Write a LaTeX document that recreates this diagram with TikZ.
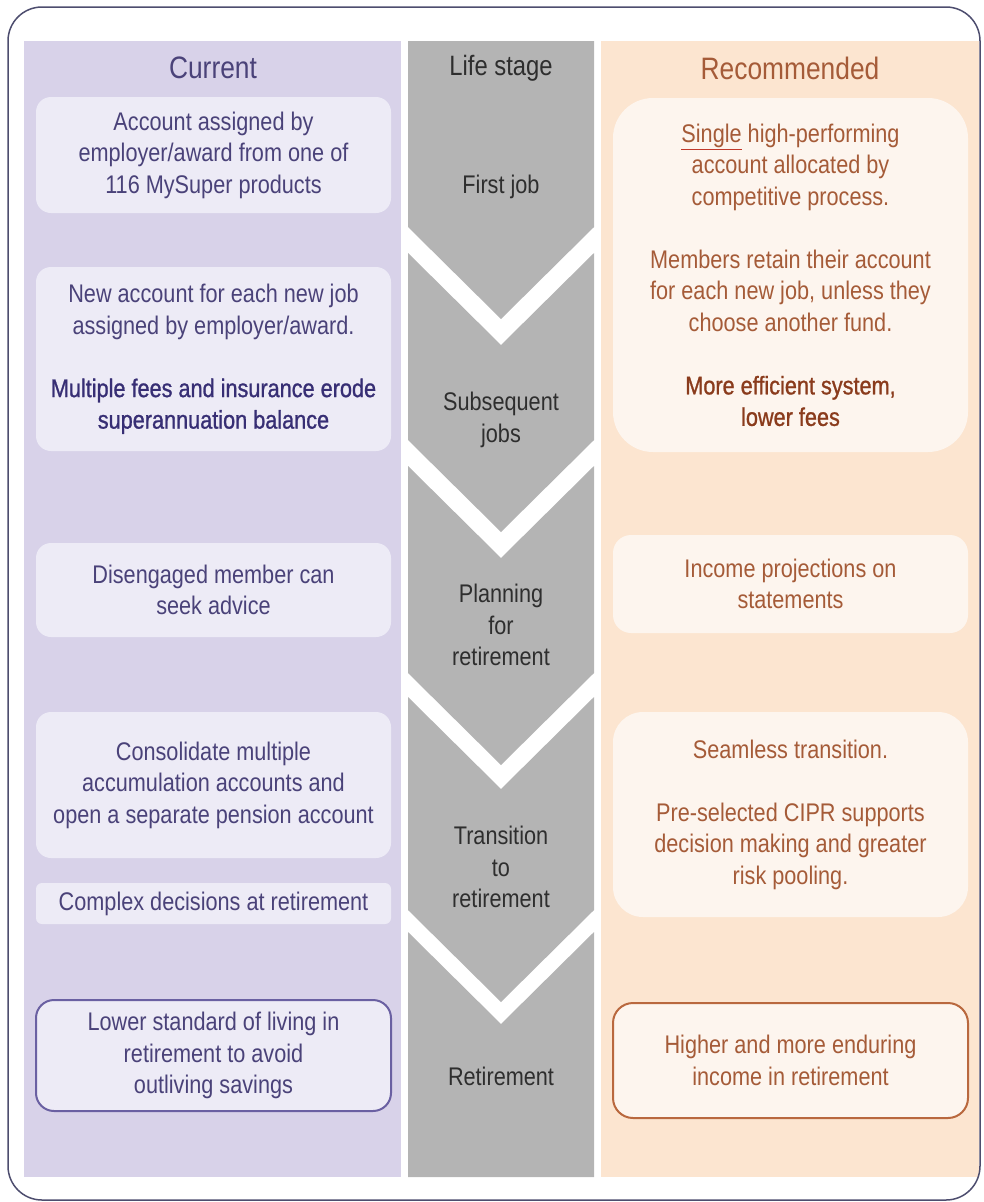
\documentclass[tikz,border=0pt]{standalone}
\usepackage{fontspec}
\setmainfont{Liberation Sans}[FakeStretch=0.85,BoldFont=Liberation Sans,BoldFeatures={FakeBold=1.0}]
\definecolor{curcol}{HTML}{D8D2E9}
\definecolor{curbg}{HTML}{EDEBF6}
\definecolor{curtxt}{HTML}{4A4279}
\definecolor{curdark}{HTML}{372E74}
\definecolor{curline}{HTML}{6A60A2}
\definecolor{stagecol}{HTML}{B4B4B4}
\definecolor{stagetxt}{HTML}{2E2E2E}
\definecolor{reccol}{HTML}{FCE5D0}
\definecolor{recbg}{HTML}{FDF5EE}
\definecolor{rectxt}{HTML}{A55B38}
\definecolor{recdark}{HTML}{8A3B1C}
\definecolor{recline}{HTML}{B9683E}
\definecolor{framecol}{HTML}{4D4D6E}
\definecolor{ulred}{HTML}{C0392B}
\newcommand\curem[1]{{\bfseries\color{curdark}#1}}
\newcommand\recem[1]{{\bfseries\color{recdark}#1}}
\begin{document}
\begin{tikzpicture}[x=1pt,y=-1pt,
  bodyfont/.style={font=\fontsize{25.5}{31.5}\selectfont},
  curbox/.style={bodyfont, fill=curbg, text=curtxt, align=center, inner sep=0pt, minimum width=355pt, rounded corners=15pt},
  recbox/.style={bodyfont, fill=recbg, text=rectxt, align=center, inner sep=0pt, minimum width=355pt, rounded corners=15pt},
  stglab/.style={bodyfont, text=stagetxt, align=center, inner sep=0pt},
  colhead/.style={font=\fontsize{31}{36}\selectfont, inner sep=0pt}]
\useasboundingbox (0,0) rectangle (983,1202);
\fill[curcol] (24,41) rectangle (401,1177);
\fill[reccol] (601,41) rectangle (979,1177);
\fill[stagecol] (408,41) -- (594,41) -- (594,227) -- (501,319) -- (408,227) -- cycle;
\fill[stagecol] (408,253) -- (501,345) -- (594,253) -- (594,440) -- (501,532) -- (408,440) -- cycle;
\fill[stagecol] (408,466) -- (501,558) -- (594,466) -- (594,673) -- (501,765) -- (408,673) -- cycle;
\fill[stagecol] (408,697) -- (501,789) -- (594,697) -- (594,910) -- (501,1002) -- (408,910) -- cycle;
\fill[stagecol] (408,932) -- (501,1024) -- (594,932) -- (594,1177) -- (408,1177) -- cycle;
\draw[framecol, line width=1.5pt, rounded corners=34pt] (8,7) rectangle (980,1200);
\node[colhead, text=curtxt] (hcur) at (213,68) {Current};
\node[colhead, text=stagetxt, font=\fontsize{28}{33}\selectfont] (hstg) at (501,68) {Life stage};
\node[colhead, text=rectxt] (hrec) at (790,68) {Recommended};
\node[stglab] (lab1) at (501,187) {First job};
\node[stglab] (lab2) at (501,420) {Subsequent\\jobs};
\node[stglab] (lab3) at (501,625) {Planning\\for\\retirement};
\node[stglab] (lab4) at (501,867) {Transition\\to\\retirement};
\node[stglab] (lab5) at (501,1076) {Retirement};
\node[curbox, minimum height=116pt] (cur1) at (213.5,155) {Account assigned by\\employer/award from one of\\116 MySuper products};
\node[curbox, minimum height=184pt] (cur2) at (213.5,359) {New account for each new job\\assigned by employer/award.\\[31.5pt]\curem{Multiple fees and insurance erode}\\\curem{superannuation balance}};
\node[curbox, minimum height=94pt] (cur3) at (213.5,590) {Disengaged member can\\seek advice};
\node[curbox, minimum height=146pt] (cur4) at (213.5,785) {Consolidate multiple\\accumulation accounts and\\open a separate pension account};
\node[curbox, minimum height=41pt, rounded corners=6pt] (cur5) at (213.5,903.5) {Complex decisions at retirement};
\node[curbox, minimum height=111pt, draw=curline, line width=2pt, rounded corners=18pt] (cur6) at (213.5,1055.5) {Lower standard of living in\\retirement to avoid\\outliving savings};
\node[recbox, minimum height=354pt, rounded corners=40pt] (rec1) at (790.5,275) {{\color{ulred}\underline{\color{rectxt}Single}} high-performing\\account allocated by\\competitive process.\\[31.5pt]Members retain their account\\for each new job, unless they\\choose another fund.\\[31.5pt]\recem{More efficient system,}\\\recem{lower fees}};
\node[recbox, minimum height=98pt, rounded corners=18pt] (rec2) at (790.5,584) {Income projections on\\statements};
\node[recbox, minimum height=205pt, rounded corners=30pt] (rec3) at (790.5,814.5) {Seamless transition.\\[31.5pt]Pre-selected CIPR supports\\decision making and greater\\risk pooling.};
\node[recbox, minimum height=115pt, draw=recline, line width=2pt, rounded corners=20pt] (rec4) at (790.5,1060.5) {Higher and more enduring\\income in retirement};
\end{tikzpicture}
\end{document}
